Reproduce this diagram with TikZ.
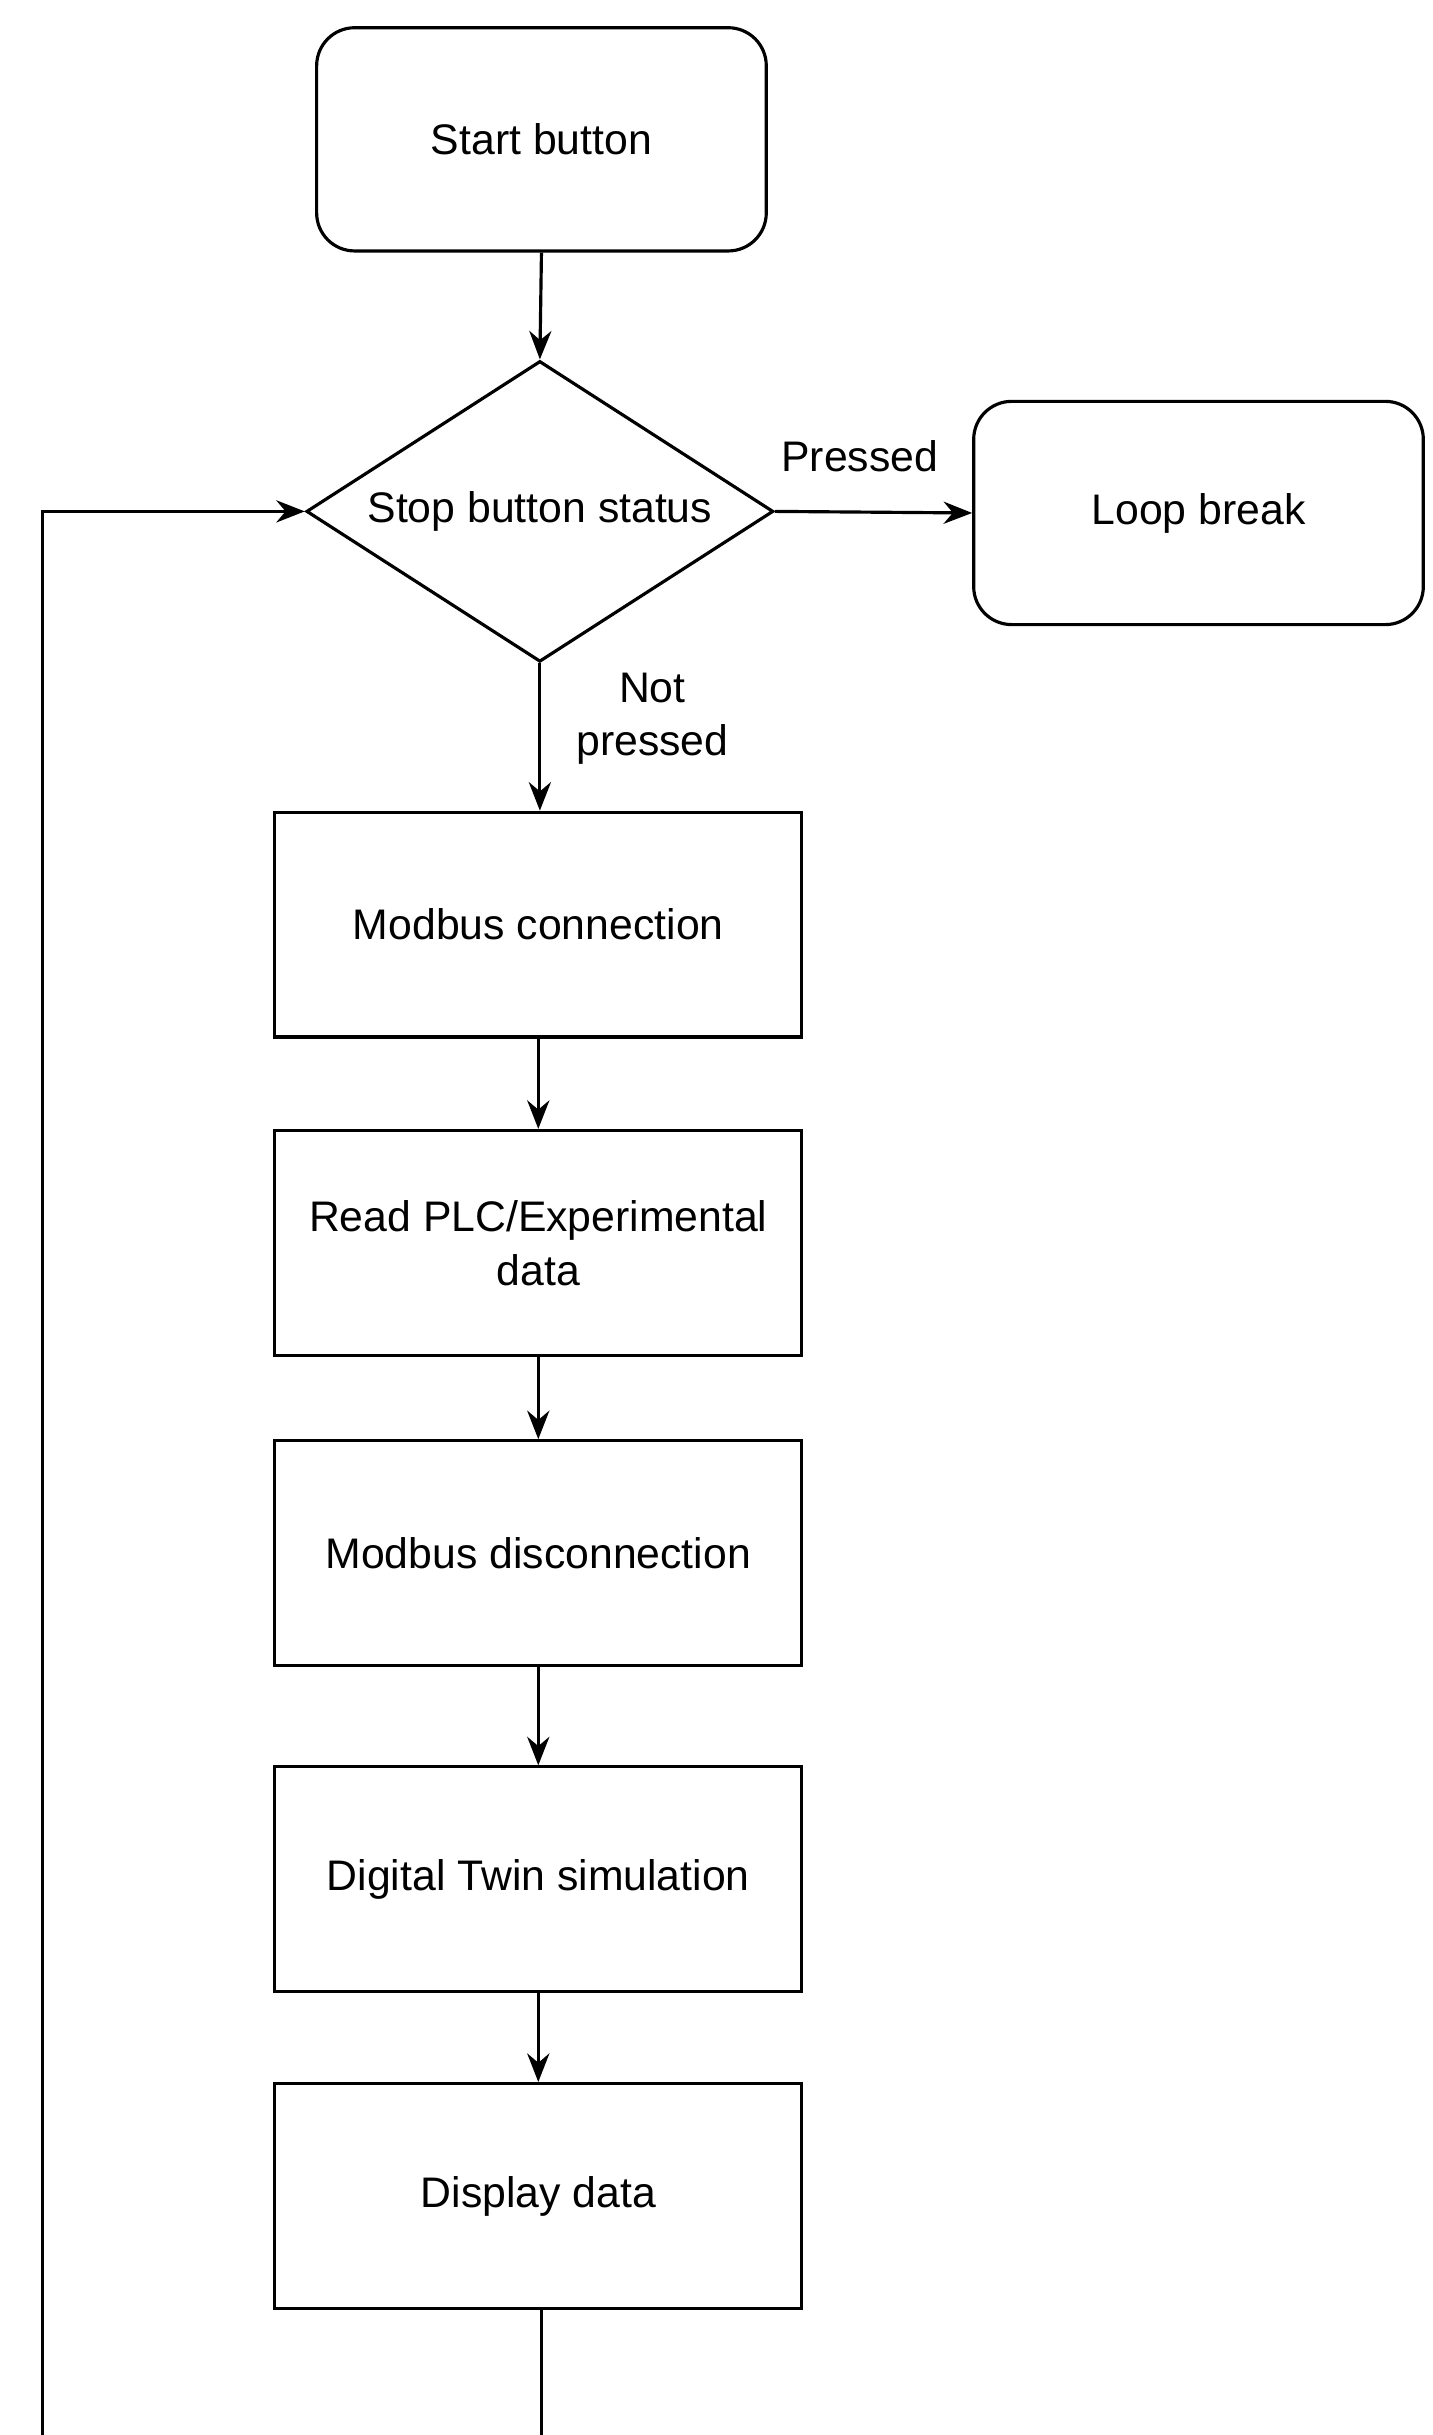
\documentclass[tikz,border=0pt]{standalone}
\usepackage{fontspec}
\setmainfont{Liberation Sans}
\usetikzlibrary{shapes.geometric,arrows.meta}
\begin{document}
\begin{tikzpicture}[x=0.5pt,y=-0.5pt,
  box/.style={draw,line width=1pt,minimum width=166.5pt,minimum height=71pt,align=center,font=\fontsize{13.5}{17}\selectfont},
  rbox/.style={box,rounded corners=12pt,minimum width=142pt,minimum height=70.5pt},
  arr/.style={-{Stealth[length=9pt,width=7pt]},line width=1pt},
  lbl/.style={font=\fontsize{13.5}{17}\selectfont,align=center}]
\useasboundingbox (0,0) rectangle (905,1538);
\node[rbox] (start) at (342,88) {Start button};
\node[draw,line width=1pt,diamond,aspect=1.55,minimum width=147.5pt,minimum height=95pt,inner sep=0pt,font=\fontsize{13.5}{17}\selectfont] (stop) at (341,323) {};
\node[lbl] (stopt) at (341,323) {Stop button status};
\node[rbox] (brk) at (757,324) {Loop break};
\node[box] (mc) at (340,584) {Modbus connection};
\node[box] (rd) at (340,785) {Read PLC/Experimental\\data};
\node[box] (md) at (340,981) {Modbus disconnection};
\node[box] (dt) at (340,1187) {Digital Twin simulation};
\node[box] (dd) at (340,1387) {Display data};
\node[lbl] (pr) at (543,288) {Pressed};
\node[lbl] (np) at (412,454) {Not\\pressed};
\coordinate (c1) at (342,1552);
\coordinate (c2) at (27,1552);
\coordinate (c3) at (27,323);
\draw[arr] (start.south) -- (stop.north);
\draw[arr] (stop.east) -- (brk.west);
\draw[arr] (stop.south) -- (stop.south |- mc.north);
\draw[arr] (mc) -- (rd);
\draw[arr] (rd) -- (md);
\draw[arr] (md) -- (dt);
\draw[arr] (dt) -- (dd);
\draw[arr] (dd.south -| c1) -- (c1) -- (c2) -- (c3) -- (stop.west);
\end{tikzpicture}
\end{document}
